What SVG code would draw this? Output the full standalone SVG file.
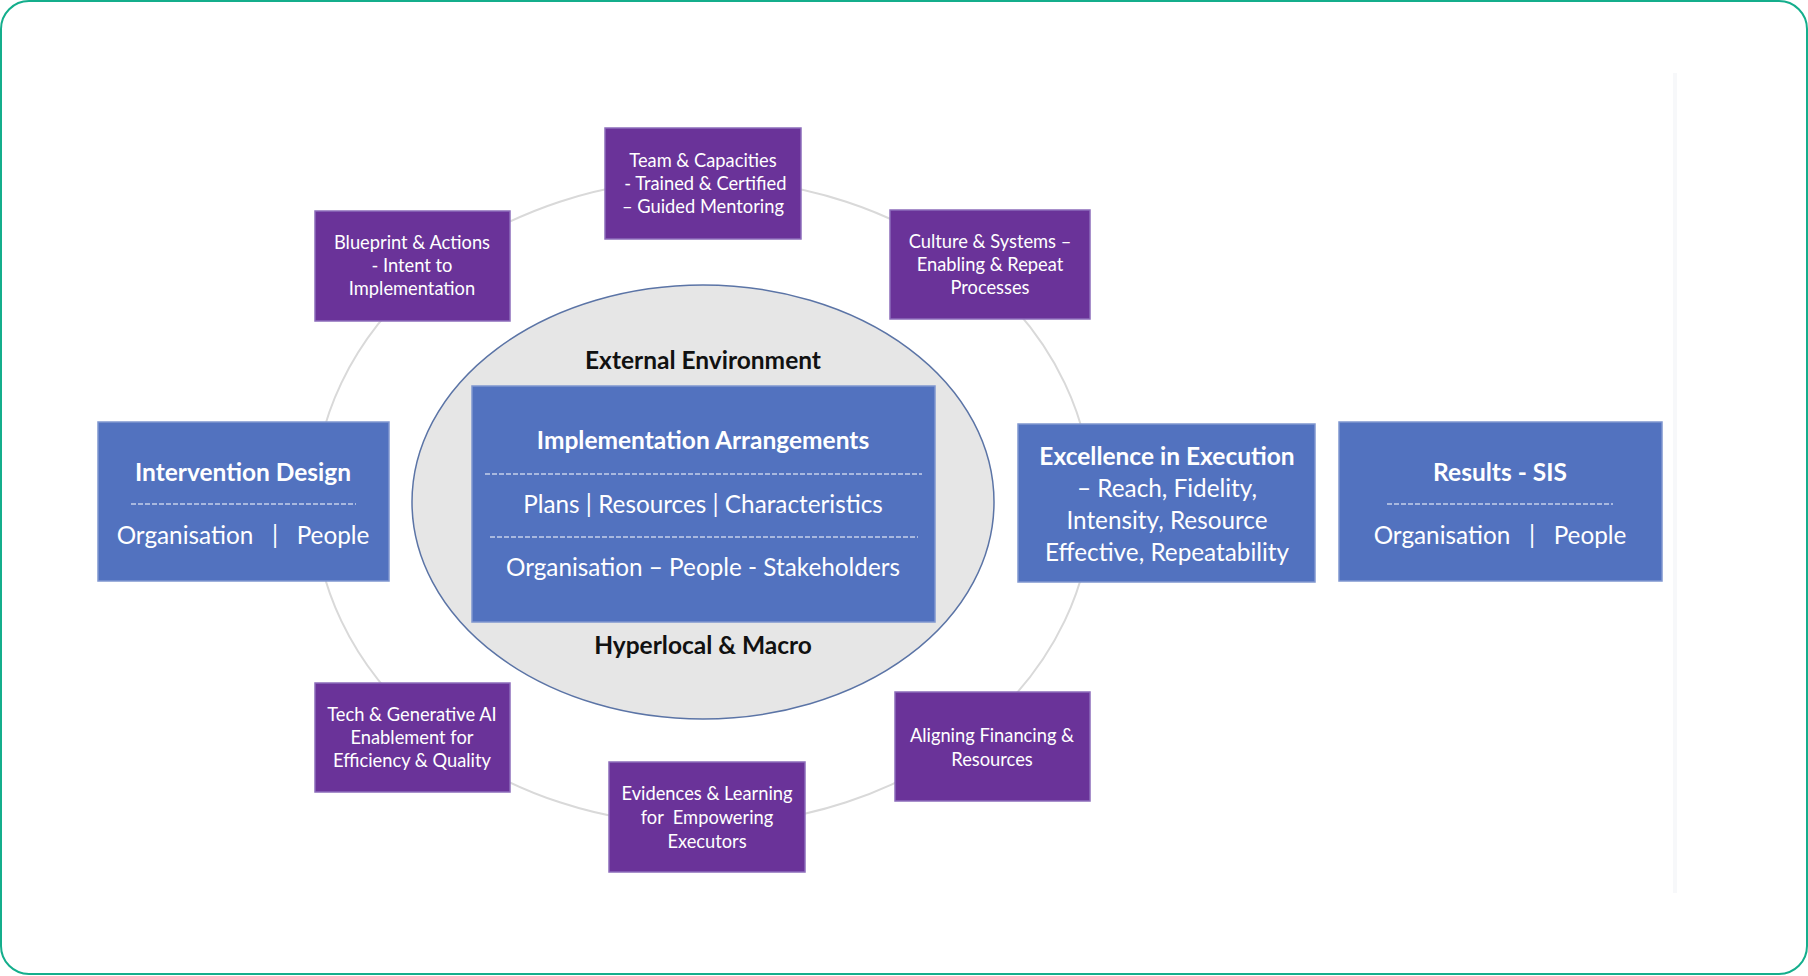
<svg xmlns="http://www.w3.org/2000/svg" width="1808" height="976" viewBox="0 0 1808 976">
<style>
.purple{fill:#6a3399;stroke:#8c6cbb;stroke-width:1.5}
.blue{fill:#5272bf;stroke:#7f96cf;stroke-width:1.5}
.t{font-family:Lato,"Open Sans","Liberation Sans",sans-serif;fill:#ffffff;text-anchor:middle;white-space:pre}
.s{font-size:18.3px}
.m{font-size:24.3px}
.b{font-weight:bold;font-size:24.5px}
.k{fill:#111111;font-size:24.5px;font-weight:bold}
.dash{stroke:#ffffff;stroke-width:1;stroke-dasharray:5 2}
</style>
<rect x="1" y="1" width="1806" height="973" rx="28" fill="#ffffff" stroke="#14ae8c" stroke-width="2"/>
<rect x="1673" y="73" width="4" height="820" fill="#f7f8fa"/>
<g id="connectors">
<ellipse cx="703" cy="502" rx="389" ry="323" fill="none" stroke="#d9d9d9" stroke-width="2"/>
</g>
<g id="environment">
<ellipse cx="703" cy="502" rx="291" ry="217" fill="#e6e6e6" stroke="#5b74a6" stroke-width="1.5"/>
<text class="t k" x="703" y="369">External Environment</text>
<text class="t k" x="703" y="654">Hyperlocal &amp; Macro</text>
</g>
<g id="implementation">
<rect class="blue" x="472" y="386" width="463" height="236"/>
<text class="t b" x="703" y="449">Implementation Arrangements</text>
<line class="dash" x1="485" y1="474" x2="922" y2="474"/>
<text class="t m" x="703" y="513">Plans | Resources | Characteristics</text>
<line class="dash" x1="490" y1="537" x2="918" y2="537"/>
<text class="t m" x="703" y="576">Organisation – People - Stakeholders</text>
</g>
<g id="team">
<rect class="purple" x="605" y="128" width="196" height="111"/>
<text class="t s" x="703" y="167">Team &amp; Capacities</text>
<text class="t s" x="703" y="190" xml:space="preserve"> - Trained &amp; Certified</text>
<text class="t s" x="703" y="213">– Guided Mentoring</text>
</g>
<g id="blueprint">
<rect class="purple" x="315" y="211" width="195" height="110"/>
<text class="t s" x="412" y="249">Blueprint &amp; Actions</text>
<text class="t s" x="412" y="272">- Intent to</text>
<text class="t s" x="412" y="295">Implementation</text>
</g>
<g id="culture">
<rect class="purple" x="890" y="210" width="200" height="109"/>
<text class="t s" x="990" y="248">Culture &amp; Systems –</text>
<text class="t s" x="990" y="271">Enabling &amp; Repeat</text>
<text class="t s" x="990" y="294">Processes</text>
</g>
<g id="intervention">
<rect class="blue" x="98" y="422" width="291" height="159"/>
<text class="t b" x="243" y="481">Intervention Design</text>
<line class="dash" x1="131" y1="504" x2="356" y2="504"/>
<text class="t m" x="243" y="544" xml:space="preserve">Organisation   |   People</text>
</g>
<g id="excellence">
<rect class="blue" x="1018" y="424" width="297" height="158"/>
<text class="t b" x="1167" y="465">Excellence in Execution</text>
<text class="t m" x="1167" y="497">– Reach, Fidelity,</text>
<text class="t m" x="1167" y="529">Intensity, Resource</text>
<text class="t m" x="1167" y="561">Effective, Repeatability</text>
</g>
<g id="results">
<rect class="blue" x="1339" y="422" width="323" height="159"/>
<text class="t b" x="1500" y="481">Results - SIS</text>
<line class="dash" x1="1387" y1="504" x2="1613" y2="504"/>
<text class="t m" x="1500" y="544" xml:space="preserve">Organisation   |   People</text>
</g>
<g id="tech">
<rect class="purple" x="315" y="683" width="195" height="109"/>
<text class="t s" x="412" y="721">Tech &amp; Generative AI</text>
<text class="t s" x="412" y="744">Enablement for</text>
<text class="t s" x="412" y="767">Efficiency &amp; Quality</text>
</g>
<g id="evidences">
<rect class="purple" x="609" y="762" width="196" height="110"/>
<text class="t s" x="707" y="800">Evidences &amp; Learning</text>
<text class="t s" x="707" y="824" xml:space="preserve">for  Empowering</text>
<text class="t s" x="707" y="848">Executors</text>
</g>
<g id="aligning">
<rect class="purple" x="895" y="692" width="195" height="109"/>
<text class="t s" x="992" y="742">Aligning Financing &amp;</text>
<text class="t s" x="992" y="766">Resources</text>
</g>
</svg>
